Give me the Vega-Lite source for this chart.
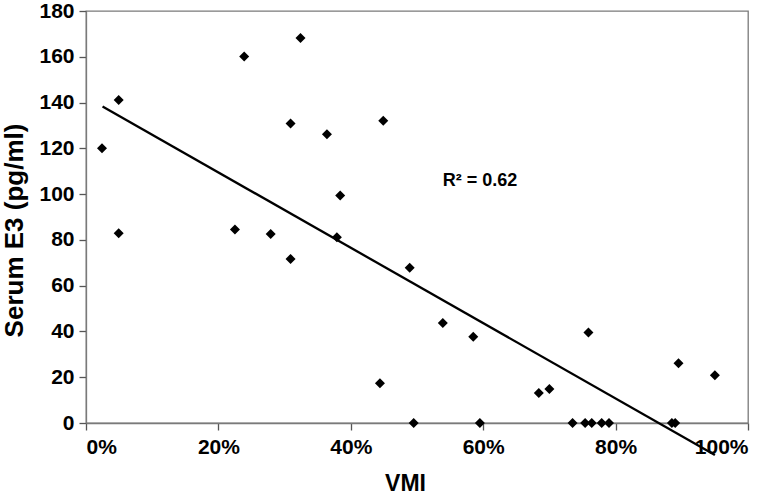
{
  "$schema": "https://vega.github.io/schema/vega-lite/v6.json",
  "width": 662,
  "height": 412,
  "autosize": "none",
  "padding": {"left": 86, "top": 11, "right": 26, "bottom": 73},
  "background": "white",
  "config": {
    "view": {"stroke": "#7a7a7a", "strokeWidth": 1.3},
    "font": "Liberation Sans",
    "axis": {
      "grid": false,
      "domainColor": "#7a7a7a",
      "domainWidth": 1.3,
      "tickColor": "#555555",
      "tickWidth": 1.3,
      "labelFont": "Liberation Sans",
      "labelFontWeight": "bold",
      "labelFontSize": 21,
      "labelColor": "black",
      "titleFont": "Liberation Sans",
      "titleFontWeight": "bold",
      "titleColor": "black"
    }
  },
  "datasets": {
    "points": [
      {"vmi": 0.0242, "e3": 120.0}, {"vmi": 0.0494, "e3": 141.1}, {"vmi": 0.0494, "e3": 82.9},
      {"vmi": 0.239, "e3": 160.1}, {"vmi": 0.324, "e3": 168.2}, {"vmi": 0.225, "e3": 84.5},
      {"vmi": 0.279, "e3": 82.6}, {"vmi": 0.309, "e3": 130.9}, {"vmi": 0.364, "e3": 126.1},
      {"vmi": 0.449, "e3": 132.1}, {"vmi": 0.384, "e3": 99.4}, {"vmi": 0.379, "e3": 81.1},
      {"vmi": 0.309, "e3": 71.7}, {"vmi": 0.444, "e3": 17.4}, {"vmi": 0.489, "e3": 67.8},
      {"vmi": 0.539, "e3": 43.7}, {"vmi": 0.585, "e3": 37.7}, {"vmi": 0.759, "e3": 39.5},
      {"vmi": 0.895, "e3": 26.1}, {"vmi": 0.950, "e3": 20.9}, {"vmi": 0.684, "e3": 13.1},
      {"vmi": 0.700, "e3": 14.8}, {"vmi": 0.495, "e3": 0}, {"vmi": 0.595, "e3": 0},
      {"vmi": 0.735, "e3": 0}, {"vmi": 0.754, "e3": 0}, {"vmi": 0.764, "e3": 0},
      {"vmi": 0.779, "e3": 0}, {"vmi": 0.790, "e3": 0}, {"vmi": 0.885, "e3": 0},
      {"vmi": 0.890, "e3": 0}
    ],
    "trend": [
      {"vmi": 0.025, "e3": 138.3},
      {"vmi": 0.95, "e3": -14}
    ],
    "label": [
      {"vmi": 0.539, "e3": 105.7, "text": "R² = 0.62"}
    ]
  },
  "layer": [
    {
      "data": {"name": "trend"},
      "mark": {"type": "line", "color": "black", "strokeWidth": 2.3, "clip": false},
      "encoding": {
        "x": {"field": "vmi", "type": "quantitative"},
        "y": {"field": "e3", "type": "quantitative"}
      }
    },
    {
      "data": {"name": "points"},
      "mark": {"type": "point", "shape": "diamond", "filled": true, "color": "black", "size": 100, "opacity": 1},
      "encoding": {
        "x": {
          "field": "vmi", "type": "quantitative",
          "scale": {"domain": [0, 1], "nice": false, "zero": false},
          "axis": {
            "title": "VMI",
            "titleFontSize": 23,
            "format": ".0%",
            "values": [0, 0.2, 0.4, 0.6, 0.8, 1.0],
            "tickSize": 7,
            "labelPadding": 6,
            "titleX": 319,
            "titleY": 67,
            "titleBaseline": "alphabetic"
          }
        },
        "y": {
          "field": "e3", "type": "quantitative",
          "scale": {"domain": [0, 180], "nice": false},
          "axis": {
            "title": "Serum E3 (pg/ml)",
            "titleFontSize": 26,
            "values": [0, 20, 40, 60, 80, 100, 120, 140, 160, 180],
            "tickSize": 7,
            "labelPadding": 5,
            "titleX": -72,
            "titleY": 219,
            "titleBaseline": "middle",
            "titleAngle": -90
          }
        }
      }
    },
    {
      "data": {"name": "label"},
      "mark": {"type": "text", "align": "left", "baseline": "middle", "font": "Liberation Sans", "fontWeight": "bold", "fontSize": 18, "color": "black"},
      "encoding": {
        "x": {"field": "vmi", "type": "quantitative"},
        "y": {"field": "e3", "type": "quantitative"},
        "text": {"field": "text"}
      }
    }
  ]
}
